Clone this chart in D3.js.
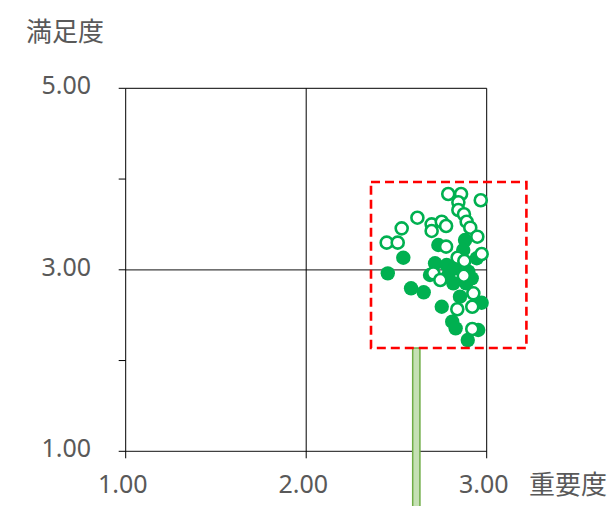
<!DOCTYPE html>
<html>
<head>
<meta charset="utf-8">
<script src="https://cdn.jsdelivr.net/npm/d3@7"></script>
<style>
  html, body { margin: 0; padding: 0; background: #fff; }
  svg text { fill: #595959; }
  .num { font-family: "Noto Sans", "Open Sans", sans-serif; }
  .title { font-family: "Noto Sans CJK JP", sans-serif; }
</style>
</head>
<body>
<svg id="chart" width="613" height="506"></svg>
<script>
// Axis settings
const xDomain = [1, 3];
const yDomain = [1, 5];
const xTickValues = [1, 2, 3];
const yTickValues = [1, 2, 3, 4, 5];
const yLabelValues = [1, 3, 5];
const xTitle = "重要度";
const yTitle = "満足度";

// Items rated on importance (x) and satisfaction (y)
const filledX = [2.538, 2.452, 2.581, 2.651, 2.751, 2.809, 2.828, 2.895, 2.953, 2.972, 2.852, 2.815,
                 2.714, 2.778, 2.880, 2.870, 2.732, 2.945, 2.917, 2.686, 2.787, 2.898, 2.824, 2.886];
const filledY = [3.133, 2.961, 2.796, 2.752, 2.593, 2.428, 2.355, 2.226, 2.337, 2.637, 2.704, 2.851,
                 3.072, 3.053, 3.328, 3.218, 3.273, 3.127, 2.906, 2.943, 2.943, 2.979, 3.017, 2.851];
const hollowX = [2.787, 2.858, 2.967, 2.843, 2.843, 2.874, 2.616, 2.529, 2.695, 2.751, 2.775, 2.695,
                 2.889, 2.909, 2.948, 2.446, 2.507, 2.775, 2.972, 2.839, 2.876, 2.704, 2.743, 2.873,
                 2.926, 2.837, 2.920, 2.920];
const hollowY = [3.835, 3.835, 3.766, 3.744, 3.659, 3.612, 3.574, 3.457, 3.501, 3.530, 3.483, 3.428,
                 3.530, 3.464, 3.365, 3.299, 3.299, 3.255, 3.174, 3.133, 3.097, 2.961, 2.888, 2.935,
                 2.741, 2.565, 2.593, 2.348];

// Highlighted region (dashed box) and marker bar below it, in data units
const boxX = [2.359, 3.220];
const boxY = [2.138, 3.967];
const barX = [2.59, 2.63];
const barYTop = 2.138;

const svg = d3.select("#chart");
const x = d3.scaleLinear().domain(xDomain).range([125.7, 486.7]);
const y = d3.scaleLinear().domain(yDomain).range([451.3, 88.3]);
const green = "#00B050";

// Plot frame and crosshair
const frame = svg.append("g");
frame.append("line").attr("x1", x(1)).attr("x2", x(3)).attr("y1", y(5)).attr("y2", y(5))
  .attr("stroke", "#000").attr("stroke-width", 1);
frame.append("line").attr("x1", x(1)).attr("x2", x(3)).attr("y1", y(3)).attr("y2", y(3))
  .attr("stroke", "#404040").attr("stroke-width", 1.2);
frame.append("line").attr("x1", x(1)).attr("x2", x(3)).attr("y1", y(1)).attr("y2", y(1))
  .attr("stroke", "#404040").attr("stroke-width", 1.2);
xTickValues.forEach(v => {
  frame.append("line").attr("x1", x(v)).attr("x2", x(v)).attr("y1", y(5)).attr("y2", y(1) + 7)
    .attr("stroke", "#000").attr("stroke-width", 1);
});
yTickValues.forEach(v => {
  frame.append("line").attr("x1", x(1) - 7).attr("x2", x(1)).attr("y1", y(v)).attr("y2", y(v))
    .attr("stroke", "#000").attr("stroke-width", 1);
});

// Tick labels
svg.append("g").selectAll("text").data(xTickValues).join("text")
  .attr("class", "num")
  .attr("x", d => x(d) - 3).attr("y", 493)
  .attr("text-anchor", "middle").attr("font-size", 25)
  .text(d => d3.format(".2f")(d));
svg.append("g").selectAll("text").data(yLabelValues).join("text")
  .attr("class", "num")
  .attr("x", 91).attr("y", d => y(d) + 6)
  .attr("text-anchor", "end").attr("font-size", 25)
  .text(d => d3.format(".2f")(d));

// Axis titles
svg.append("text").attr("class", "title").attr("x", 529).attr("y", 494).attr("font-size", 26).text(xTitle);
svg.append("text").attr("class", "title").attr("x", 26).attr("y", 41).attr("font-size", 26).text(yTitle);

// Marker bar
svg.append("rect")
  .attr("x", x(barX[0])).attr("y", y(barYTop))
  .attr("width", x(barX[1]) - x(barX[0])).attr("height", 506 - y(barYTop) + 5)
  .attr("fill", "#C5E0B4").attr("stroke", "#70AD47").attr("stroke-width", 1.5);

// Points: filled first, hollow on top
svg.append("g").selectAll("circle").data(filledX.map((v, i) => [v, filledY[i]])).join("circle")
  .attr("cx", d => x(d[0])).attr("cy", d => y(d[1])).attr("r", 7.2)
  .attr("fill", green);
svg.append("g").selectAll("circle").data(hollowX.map((v, i) => [v, hollowY[i]])).join("circle")
  .attr("cx", d => x(d[0])).attr("cy", d => y(d[1])).attr("r", 6)
  .attr("fill", "#fff").attr("stroke", green).attr("stroke-width", 2.6);

// Dashed highlight box
svg.append("rect")
  .attr("x", x(boxX[0])).attr("y", y(boxY[1]))
  .attr("width", x(boxX[1]) - x(boxX[0])).attr("height", y(boxY[0]) - y(boxY[1]))
  .attr("fill", "none").attr("stroke", "#FF0000").attr("stroke-width", 2.6)
  .attr("stroke-dasharray", "9,5");
</script>
</body>
</html>
